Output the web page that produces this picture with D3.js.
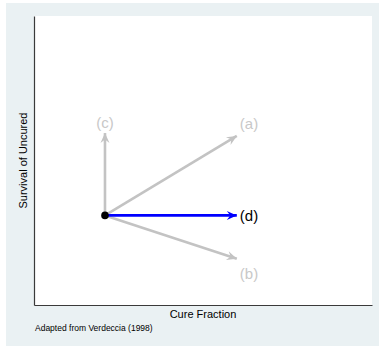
<!DOCTYPE html>
<html>
<head>
<meta charset="utf-8">
<script src="https://cdn.jsdelivr.net/npm/d3@7"></script>
<style>
  html, body { margin: 0; padding: 0; background: #ffffff; }
  svg { display: block; font-family: "Liberation Sans", Arial, Helvetica, sans-serif; }
</style>
</head>
<body>
<div id="chart"></div>
<script>
// Scenario arrows: where a population moves from a common starting point
const scenarioNames = ["(a)", "(b)", "(c)", "(d)"];
const startPoint = [0.21, 0.31];            // [cure fraction, survival of uncured]
const endCure = [0.60, 0.60, 0.21, 0.60];
const endSurvival = [0.585, 0.16, 0.595, 0.31];
const highlighted = [false, false, false, true];

const xTitle = "Cure Fraction";
const yTitle = "Survival of Uncured";
const note = "Adapted from Verdeccia (1998)";

const W = 379, H = 350;
const plot = { left: 34, right: 372, top: 16, bottom: 305 };

const svg = d3.select("#chart").append("svg")
  .attr("width", W).attr("height", H);

// graph region and plot region
svg.append("rect").attr("x", 6).attr("y", 3).attr("width", 373).attr("height", 343)
  .attr("fill", "#eaf1f3");
svg.append("rect").attr("x", plot.left).attr("y", plot.top)
  .attr("width", plot.right - plot.left).attr("height", plot.bottom - plot.top)
  .attr("fill", "#ffffff");

const x = d3.scaleLinear().domain([0, 1]).range([plot.left, plot.right]);
const y = d3.scaleLinear().domain([0, 1]).range([plot.bottom, plot.top]);

// axes without ticks or labels
svg.append("g").attr("transform", `translate(0,${plot.bottom})`)
  .call(d3.axisBottom(x).tickValues([]).tickSizeOuter(0))
  .select(".domain").attr("stroke", "#3a3a3a").attr("stroke-width", 1.2);
svg.append("g").attr("transform", `translate(${plot.left},0)`)
  .call(d3.axisLeft(y).tickValues([]).tickSizeOuter(0))
  .select(".domain").attr("stroke", "#3a3a3a").attr("stroke-width", 1.2);

// arrowheads
const defs = svg.append("defs");
[["grey", "#c3c3c3"], ["blue", "#0000ff"]].forEach(([id, col]) => {
  defs.append("marker")
    .attr("id", "head-" + id)
    .attr("viewBox", "-11 -5 12 10")
    .attr("refX", 0).attr("refY", 0)
    .attr("markerUnits", "userSpaceOnUse")
    .attr("markerWidth", 12).attr("markerHeight", 10)
    .attr("orient", "auto")
    .append("path")
    .attr("d", "M0,0 L-10,-4.5 L-6.5,0 L-10,4.5 Z")
    .attr("fill", col);
});

const arrows = scenarioNames.map((name, i) => ({
  name, x: endCure[i], y: endSurvival[i], hi: highlighted[i]
}));

// grey arrows first, highlighted one on top
const order = arrows.slice().sort((a, b) => a.hi - b.hi);
svg.append("g").selectAll("line").data(order).join("line")
  .attr("x1", x(startPoint[0])).attr("y1", y(startPoint[1]))
  .attr("x2", d => x(d.x)).attr("y2", d => y(d.y))
  .attr("stroke", d => d.hi ? "#0000ff" : "#c3c3c3")
  .attr("stroke-width", 2.6)
  .attr("marker-end", d => d.hi ? "url(#head-blue)" : "url(#head-grey)");

// starting point
svg.append("circle")
  .attr("cx", x(startPoint[0])).attr("cy", y(startPoint[1]))
  .attr("r", 3.8).attr("fill", "#000");

// arrow labels
svg.append("g").selectAll("text").data(arrows).join("text")
  .attr("x", d => d.x === startPoint[0] ? x(d.x) : x(d.x) + 3)
  .attr("y", d => {
    if (d.x === startPoint[0]) return y(d.y) - 5;
    if (d.y > startPoint[1] + 0.01) return y(d.y) - 7;
    if (d.y < startPoint[1] - 0.01) return y(d.y) + 20;
    return y(d.y) + 5.5;
  })
  .attr("text-anchor", d => d.x === startPoint[0] ? "middle" : "start")
  .attr("font-size", 15)
  .attr("fill", d => d.hi ? "#000" : "#c8c8c8")
  .text(d => d.name);

// titles
svg.append("text")
  .attr("x", (plot.left + plot.right) / 2).attr("y", 318)
  .attr("text-anchor", "middle").attr("font-size", 11).attr("fill", "#000")
  .text(xTitle);
svg.append("text")
  .attr("transform", `translate(27,${(plot.top + plot.bottom) / 2}) rotate(-90)`)
  .attr("text-anchor", "middle").attr("font-size", 11).attr("fill", "#000")
  .text(yTitle);
svg.append("text")
  .attr("x", 35).attr("y", 331)
  .attr("font-size", 8.5).attr("fill", "#000")
  .text(note);
</script>
</body>
</html>
